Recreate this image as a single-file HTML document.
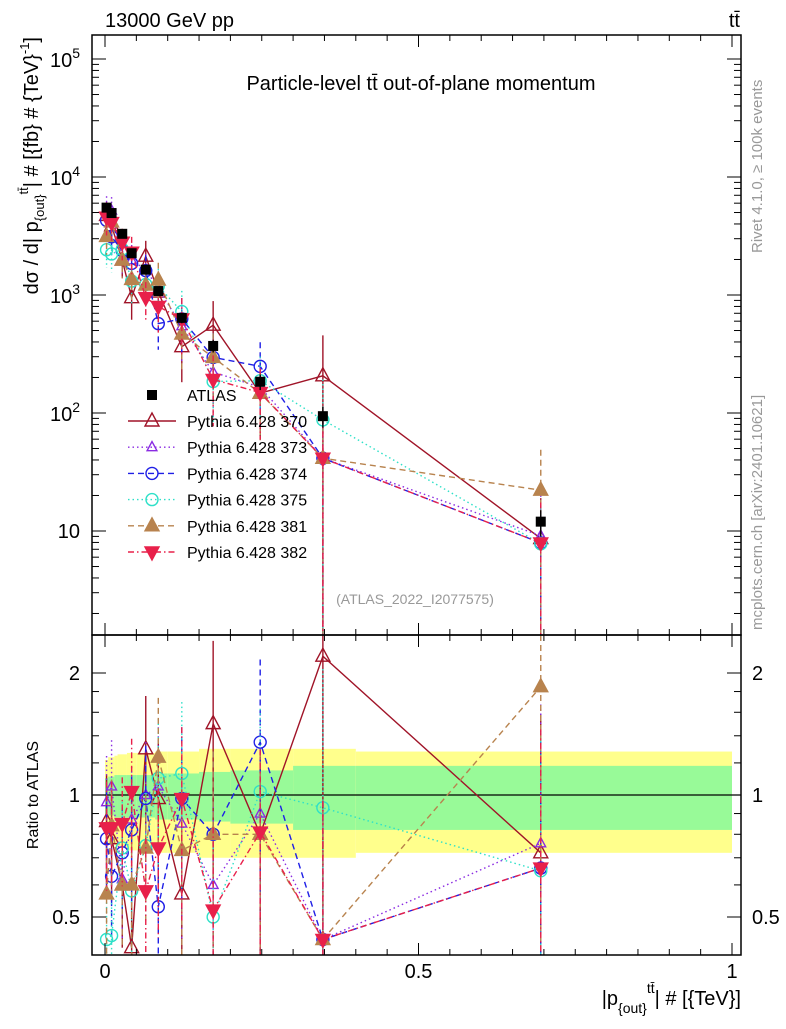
<!DOCTYPE html>
<html><head><meta charset="utf-8"><style>
body{margin:0;background:#fff;}
svg text{font-family:"Liberation Sans",sans-serif;}
</style></head><body>
<svg id="c" width="786" height="1024" xmlns="http://www.w3.org/2000/svg"></svg>
<script>
const xVals=[0.0025,0.0105,0.0275,0.0425,0.065,0.085,0.1225,0.1725,0.2475,0.3475,0.695];
const atlas=[5500,4950,3300,2260,1640,1080,640,370,184,94,12];
const atlasErr=[0.06,0.06,0.07,0.08,0.08,0.09,0.1,0.12,0.15,0.2,0.25];
const r370=[0.86,0.78,0.6,0.42,1.3,0.98,0.57,1.5,0.8,2.2,0.72];
const r373=[0.96,1.05,0.62,0.87,1.0,1.05,0.85,0.6,0.9,0.44,0.76];
const r374=[0.78,0.63,0.72,0.82,0.98,0.53,0.98,0.8,1.35,0.44,0.66];
const r375=[0.44,0.45,0.74,0.58,0.75,1.1,1.13,0.5,1.02,0.93,0.65];
const r381=[0.57,0.84,0.6,0.6,0.74,1.24,0.73,0.8,0.8,0.44,1.85];
const r382=[0.83,0.83,0.85,1.02,0.58,0.74,0.98,0.52,0.81,0.44,0.66];
const relErr=[0.3,0.3,0.3,0.35,0.35,0.4,0.5,0.6,0.6,1.2,1.2];
const bandEdges=[0,0.005,0.015,0.02,0.035,0.05,0.08,0.1,0.15,0.2,0.3,0.4,1.0];
const bandInner=[0.1,0.11,0.12,0.12,0.12,0.12,0.13,0.13,0.14,0.15,0.18,0.18];
const bandOuter=[0.22,0.24,0.25,0.26,0.27,0.27,0.28,0.28,0.3,0.3,0.3,0.28];
const series=[
 {n:'Pythia 6.428 370',r:r370,c:'#a01428',d:'',m:'tri',f:false,key:'370'},
 {n:'Pythia 6.428 373',r:r373,c:'#8a2be2',d:'1.5,3',m:'tri',f:false,key:'373',s:0.7},
 {n:'Pythia 6.428 374',r:r374,c:'#1f1fe6',d:'6,4',m:'circ',f:false,key:'374'},
 {n:'Pythia 6.428 375',r:r375,c:'#2ee0c8',d:'1.5,3',m:'circ',f:false,key:'375'},
 {n:'Pythia 6.428 381',r:r381,c:'#b8834e',d:'6,4',m:'tri',f:true,key:'381'},
 {n:'Pythia 6.428 382',r:r382,c:'#e8204a',d:'6,3,1.5,3',m:'dtri',f:true,key:'382'}];
const svg=document.getElementById('c');const NS='http://www.w3.org/2000/svg';
function el(t,a,p){const e=document.createElementNS(NS,t);for(const k in a)e.setAttribute(k,a[k]);(p||svg).appendChild(e);return e;}
const L=92,R=741,T=35,M=635,B=955;
const X=x=>105+627*x;
const Y=v=>59+(5-Math.log10(v))*118;
const YR=r=>795-Math.log2(r)*122;
const cl=(y,a,b)=>Math.max(a,Math.min(b,y));
// bands
for(let i=0;i<bandInner.length;i++){
 const x0=X(bandEdges[i]),x1=X(bandEdges[i+1]);
 const o=el('rect',{x:x0,y:YR(1+bandOuter[i]),width:x1-x0,height:YR(1-bandOuter[i])-YR(1+bandOuter[i]),fill:'#ffff8c'});
 
 const g=el('rect',{x:x0,y:YR(1+bandInner[i]),width:x1-x0,height:YR(1-bandInner[i])-YR(1+bandInner[i]),fill:'#98fa98'});
 
}
el('line',{x1:L,x2:R,y1:YR(1),y2:YR(1),stroke:'#000','stroke-width':1.2});
function marker(g,m,x,y,c,f,s){s=s||1;
 if(m==='tri')el('polygon',{points:`${x},${y-8*s} ${x-7*s},${y+5*s} ${x+7*s},${y+5*s}`,fill:f?c:'none',stroke:c,'stroke-width':1.4},g);
 else if(m==='dtri')el('polygon',{points:`${x},${y+8*s} ${x-7*s},${y-5*s} ${x+7*s},${y-5*s}`,fill:f?c:'none',stroke:c,'stroke-width':1.4},g);
 else if(m==='circ')el('circle',{cx:x,cy:y,r:6,fill:'none',stroke:c,'stroke-width':1.4},g);
 else el('rect',{x:x-5,y:y-5,width:10,height:10,fill:c},g);}
// series
series.forEach(s=>{
 const g=el('g',{});
 let pm=[],pr=[];
 s.r.forEach((r,i)=>{const v=r*atlas[i];const x=X(xVals[i]);
  const ym=Y(v),yr=YR(r);pm.push([x,ym]);pr.push([x,cl(yr,M,B)]);
  const e=relErr[i];
  el('line',{x1:x,x2:x,y1:cl(Y(v*(1+e)),T,M),y2:cl(Y(Math.max(v*(1-e),0.5)),T,M),stroke:s.c,'stroke-width':1.4,'stroke-dasharray':s.d},g);
  el('line',{x1:x,x2:x,y1:cl(YR(r*(1+e)),M,B),y2:cl(YR(Math.max(r*(1-e),0.1)),M,B),stroke:s.c,'stroke-width':1.4,'stroke-dasharray':s.d},g);
 });
 el('polyline',{points:pm.map(p=>p.join(',')).join(' '),fill:'none',stroke:s.c,'stroke-width':1.4,'stroke-dasharray':s.d},g);
 el('polyline',{points:pr.map(p=>p.join(',')).join(' '),fill:'none',stroke:s.c,'stroke-width':1.4,'stroke-dasharray':s.d},g);
 pm.forEach(p=>marker(g,s.m,p[0],p[1],s.c,s.f,s.s));
 pr.forEach(p=>{if(p[1]>M&&p[1]<B)marker(g,s.m,p[0],p[1],s.c,s.f,s.s);});
});
// atlas
const ga=el('g',{});
atlas.forEach((v,i)=>{const x=X(xVals[i]);
 el('line',{x1:x,x2:x,y1:Y(v*(1+atlasErr[i])),y2:Y(v*(1-atlasErr[i])),stroke:'#000','stroke-width':1.4},ga);
 marker(ga,'sq',x,Y(v),'#000');});
// frames
el('rect',{x:L,y:T,width:R-L,height:M-T,fill:'none',stroke:'#000','stroke-width':1.5});
el('rect',{x:L,y:M,width:R-L,height:B-M,fill:'none',stroke:'#000','stroke-width':1.5});
// x ticks
for(let k=0;k<=20;k++){const x=X(k*0.05);if(x>R)break;const big=k%10==0;const h=big?12:6;
 [[T,1],[M,1],[M,-1],[B,-1]].forEach(([y,d])=>el('line',{x1:x,x2:x,y1:y,y2:y+d*h,stroke:'#000'}));}
['0','0.5','1'].forEach((t,i)=>{const e=el('text',{x:X(i*0.5),y:978,'font-size':20,'text-anchor':'middle'});e.textContent=t;});
// y log ticks main
for(let d=1;d<=5;d++){for(let m=1;m<10;m++){const v=m*Math.pow(10,d);const y=Y(v);if(y<T||y>M)continue;const h=m==1?14:7;
 el('line',{x1:L,x2:L+h,y1:y,y2:y,stroke:'#000'});el('line',{x1:R,x2:R-h,y1:y,y2:y,stroke:'#000'});}}
for(let m=2;m<10;m++){const y=Y(m);if(y<M){el('line',{x1:L,x2:L+7,y1:y,y2:y,stroke:'#000'});el('line',{x1:R,x2:R-7,y1:y,y2:y,stroke:'#000'});}}
[[2,'10'],[3,'10'],[4,'10'],[5,'10']].forEach(([d])=>{const t=el('text',{x:80,y:Y(Math.pow(10,d))+8,'font-size':20,'text-anchor':'end'});t.innerHTML='10<tspan dy="-9" font-size="14">'+d+'</tspan>';});
{const t=el('text',{x:80,y:Y(10)+7,'font-size':20,'text-anchor':'end'});t.textContent='10';}
// ratio ticks
[0.4,0.5,0.6,0.7,0.8,0.9,1,1.2,1.4,1.6,1.8,2].forEach(r=>{const y=YR(r);if(y<M||y>B)return;const big=(r==0.5||r==1||r==2);const h=big?14:7;
 el('line',{x1:L,x2:L+h,y1:y,y2:y,stroke:'#000'});el('line',{x1:R,x2:R-h,y1:y,y2:y,stroke:'#000'});});
[['2',2],['1',1],['0.5',0.5]].forEach(([t,r])=>{[[80,'end'],[752,'start']].forEach(([x,a])=>{const e=el('text',{x:x,y:YR(r)+7,'font-size':20,'text-anchor':a});e.textContent=t;});});
// texts
function txt(s,a,name){const e=el('text',a);e.innerHTML=s;return e;}
txt('13000 GeV pp',{x:105,y:27,'font-size':20},'energy-label');
txt('tt̄',{x:740,y:27,'font-size':20,'text-anchor':'end'},'process-label');
txt('Particle-level tt̄ out-of-plane momentum',{x:421,y:90,'font-size':20,'text-anchor':'middle'},'plot-title');
txt('(ATLAS_2022_I2077575)',{x:415,y:604,'font-size':14,fill:'#999','text-anchor':'middle'},'analysis-id');
txt('Rivet 4.1.0, ≥ 100k events',{x:0,y:0,'font-size':15,fill:'#999',transform:'translate(762,253) rotate(-90)'},'rivet-label');
txt('mcplots.cern.ch [arXiv:2401.10621]',{x:0,y:0,'font-size':15,fill:'#999',transform:'translate(762,630) rotate(-90)'},'mcplots-label');
txt('dσ / d| p<tspan dy="6" font-size="13">{out}</tspan><tspan dy="-16" font-size="13">tt̄</tspan><tspan dy="10">| # [{fb} # {TeV}</tspan><tspan dy="-9" font-size="13">-1</tspan><tspan dy="9">]</tspan>',{x:0,y:0,'font-size':20,'text-anchor':'end',transform:'translate(38,37) rotate(-90)'},'y-axis-title');
txt('Ratio to ATLAS',{x:0,y:0,'font-size':16,'text-anchor':'middle',transform:'translate(38,795) rotate(-90)'},'ratio-axis-title');
txt('|p<tspan dy="8" font-size="14">{out}</tspan><tspan dy="-20" font-size="14">tt̄</tspan><tspan dy="12">| # [{TeV}]</tspan>',{x:741,y:1005,'font-size':20,'text-anchor':'end'},'x-axis-title');
// legend
const lg=el('g',{});
{const y=395;marker(lg,'sq',152,y,'#000');txt('ATLAS',{x:187,y:y+6,'font-size':16},'legend-entry');}
series.forEach((s,i)=>{const y=421+i*26.2;
 el('line',{x1:128,x2:176,y1:y,y2:y,stroke:s.c,'stroke-width':1.4,'stroke-dasharray':s.d},lg);
 marker(lg,s.m,152,y,s.c,s.f,s.s);
 txt(s.n,{x:187,y:y+6,'font-size':16},'legend-entry');});
</script>
</body></html>
